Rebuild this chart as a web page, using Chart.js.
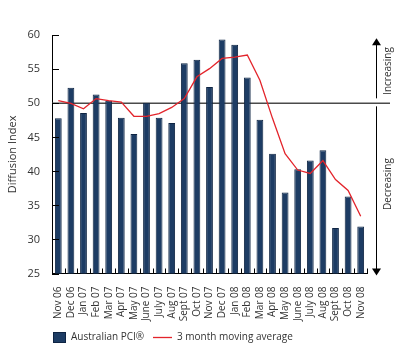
<!DOCTYPE html>
<html>
<head>
<meta charset="utf-8">
<script src="https://cdn.jsdelivr.net/npm/chart.js@4.4.0/dist/chart.umd.min.js"></script>
<style>
  html, body { margin: 0; padding: 0; background: #ffffff; }
  #wrap { width: 400px; height: 356px; position: relative; }
</style>
</head>
<body>
<div id="wrap"><canvas id="c" width="400" height="356"></canvas></div>
<script>
const categories = ['Nov 06','Dec 06','Jan 07','Feb 07','Mar 07','Apr 07','May 07','June 07','July 07','Aug 07','Sept 07','Oct 07','Nov 07','Dec 07','Jan 08','Feb 08','Mar 08','Apr 08','May 08','June 08','July 08','Aug 08','Sept 08','Oct 08','Nov 08'];
const pciValues = [47.8, 52.3, 48.6, 51.3, 50.4, 47.9, 45.5, 50.1, 47.9, 47.1, 55.9, 56.4, 52.4, 59.4, 58.6, 53.8, 47.6, 42.6, 36.9, 40.3, 41.6, 43.1, 31.7, 36.3, 31.9];
const movingAvg = [50.4, 50.0, 49.2, 50.7, 50.4, 50.2, 48.1, 48.1, 48.5, 49.4, 50.7, 53.9, 55.1, 56.6, 56.8, 57.1, 53.4, 47.8, 42.6, 40.2, 39.7, 41.6, 38.8, 37.2, 33.4];
const yTicks = [25, 30, 35, 40, 45, 50, 55, 60];
const seriesNames = ['Australian PCI®', '3 month moving average'];
const sideLabels = ['Increasing', 'Decreasing'];
const yTitle = 'Diffusion Index';
const referenceLevel = 50;

const FONT = "'Open Sans', 'Noto Sans', sans-serif";
const TEXT = '#333333';
const NAVY = '#1d3c64';
const NAVY_EDGE = '#0e2443';
const RED = '#e3242b';

const decor = {
  id: 'decor',
  beforeDatasetsDraw(chart) {
    const ctx = chart.ctx, y = chart.scales.y, area = chart.chartArea;
    const py = y.getPixelForValue(referenceLevel);
    ctx.save();
    ctx.strokeStyle = '#4a4a4a';
    ctx.lineWidth = 1.5;
    ctx.beginPath();
    ctx.moveTo(area.left, py);
    ctx.lineTo(390, py);
    ctx.stroke();
    ctx.restore();
  },
  afterDraw(chart) {
    const ctx = chart.ctx, x = chart.scales.x, y = chart.scales.y, area = chart.chartArea;
    ctx.save();
    ctx.strokeStyle = '#000';
    ctx.lineWidth = 1;
    yTicks.forEach(v => {
      const py = Math.round(y.getPixelForValue(v)) + 0.5;
      ctx.beginPath();
      ctx.moveTo(area.left, py);
      ctx.lineTo(area.left + 7, py);
      ctx.stroke();
    });
    const n = categories.length;
    const step = x.getPixelForValue(1) - x.getPixelForValue(0);
    for (let i = 0; i < n; i++) {
      const bx = Math.round(x.getPixelForValue(i) + step / 2) + 0.5;
      ctx.beginPath();
      ctx.moveTo(bx, area.bottom);
      ctx.lineTo(bx, area.bottom - 5);
      ctx.stroke();
    }
    const ax = 376.5;
    const topTip = y.getPixelForValue(60) + 3;
    const botTip = y.getPixelForValue(25) + 2;
    const mid = y.getPixelForValue(referenceLevel);
    ctx.strokeStyle = '#000';
    ctx.fillStyle = '#000';
    ctx.lineWidth = 1;
    ctx.beginPath();
    ctx.moveTo(ax, topTip + 6);
    ctx.lineTo(ax, mid - 5);
    ctx.moveTo(ax, mid + 3);
    ctx.lineTo(ax, botTip - 6);
    ctx.stroke();
    ctx.beginPath();
    ctx.moveTo(ax, topTip);
    ctx.lineTo(ax - 4.5, topTip + 7);
    ctx.lineTo(ax + 4.5, topTip + 7);
    ctx.closePath();
    ctx.fill();
    ctx.beginPath();
    ctx.moveTo(ax, botTip);
    ctx.lineTo(ax - 4.5, botTip - 7);
    ctx.lineTo(ax + 4.5, botTip - 7);
    ctx.closePath();
    ctx.fill();
    ctx.fillStyle = TEXT;
    ctx.font = '10px ' + FONT;
    ctx.textAlign = 'center';
    ctx.textBaseline = 'middle';
    [[sideLabels[0], 71], [sideLabels[1], 184]].forEach(([t, cy]) => {
      ctx.save();
      ctx.translate(388.5, cy);
      ctx.rotate(-Math.PI / 2);
      ctx.fillText(t, 0, 0);
      ctx.restore();
    });
    const ly = 337.5;
    ctx.fillStyle = NAVY;
    ctx.fillRect(53, 332, 13, 11);
    ctx.strokeStyle = NAVY_EDGE;
    ctx.strokeRect(53.5, 332.5, 12, 10);
    ctx.strokeStyle = RED;
    ctx.lineWidth = 1.3;
    ctx.beginPath();
    ctx.moveTo(153, ly);
    ctx.lineTo(172, ly);
    ctx.stroke();
    ctx.fillStyle = TEXT;
    ctx.font = '10px ' + FONT;
    ctx.textAlign = 'left';
    ctx.textBaseline = 'middle';
    ctx.fillText(seriesNames[0], 71, ly);
    ctx.fillText(seriesNames[1], 177, ly);
    ctx.restore();
  }
};

new Chart(document.getElementById('c'), {
  data: {
    labels: categories,
    datasets: [
      {
        type: 'line',
        label: seriesNames[1],
        data: movingAvg,
        borderColor: RED,
        borderWidth: 1.3,
        pointRadius: 0,
        tension: 0,
        fill: false,
        order: 0
      },
      {
        type: 'bar',
        label: seriesNames[0],
        data: pciValues,
        backgroundColor: NAVY,
        borderColor: NAVY_EDGE,
        borderWidth: 1,
        barPercentage: 0.54,
        categoryPercentage: 1.0,
        order: 1
      }
    ]
  },
  options: {
    responsive: false,
    animation: false,
    devicePixelRatio: 1,
    layout: { padding: { left: 0, top: 35.3, right: 33, bottom: 22.5 } },
    plugins: { legend: { display: false }, tooltip: { enabled: false } },
    scales: {
      x: {
        type: 'category',
        offset: true,
        grid: { display: false },
        border: { display: true, color: '#000', width: 1 },
        ticks: {
          minRotation: 90, maxRotation: 90, autoSkip: false,
          padding: 5, color: TEXT, font: { family: FONT, size: 10 }
        },
        afterFit(s) { s.height = 60; }
      },
      y: {
        min: 25, max: 60,
        grid: { display: false },
        border: { display: true, color: '#000', width: 1 },
        afterBuildTicks(s) { s.ticks = yTicks.map(v => ({ value: v })); },
        ticks: { padding: 4, color: TEXT, font: { family: FONT, size: 11 } },
        title: {
          display: true, text: yTitle, color: TEXT,
          font: { family: FONT, size: 11 },
          padding: { top: 6.4, bottom: 0 }
        },
        afterFit(s) { s.width = 52; }
      }
    }
  },
  plugins: [decor]
});
</script>
</body>
</html>
